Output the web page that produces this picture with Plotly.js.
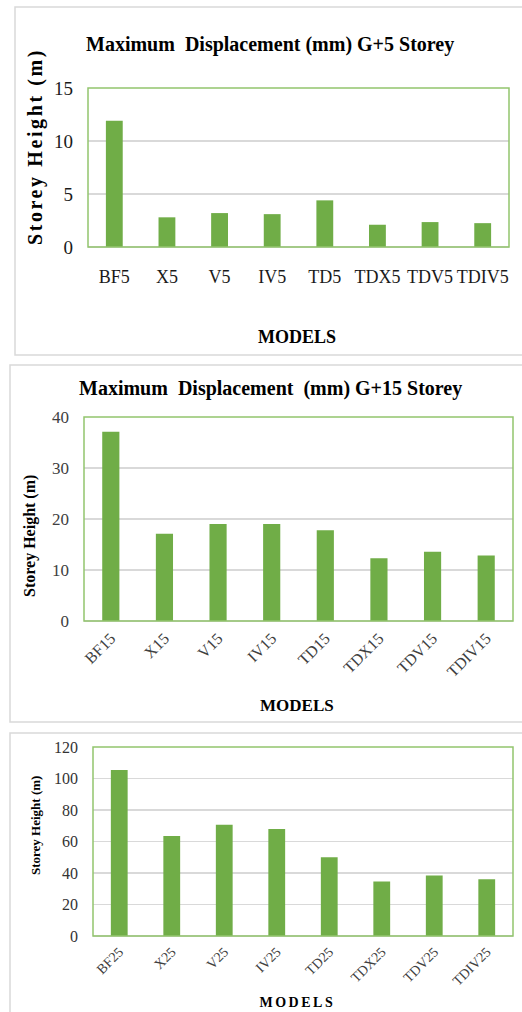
<!DOCTYPE html>
<html>
<head>
<meta charset="utf-8">
<script src="https://cdn.plot.ly/plotly-3.0.1.min.js"></script>
<style>html,body{margin:0;padding:0;background:#fff;}#chart{width:522px;height:1012px;}</style>
</head>
<body>
<div id="chart"></div>
<script>
// Data
const models5 = ["BF5", "X5", "V5", "IV5", "TD5", "TDX5", "TDV5", "TDIV5"];
const disp5 = [11.9, 2.8, 3.2, 3.1, 4.4, 2.1, 2.35, 2.25];
const models15 = ["BF15", "X15", "V15", "IV15", "TD15", "TDX15", "TDV15", "TDIV15"];
const disp15 = [37.1, 17.1, 19.0, 19.0, 17.8, 12.3, 13.6, 12.85];
const models25 = ["BF25", "X25", "V25", "IV25", "TD25", "TDX25", "TDV25", "TDIV25"];
const disp25 = [105.4, 63.5, 70.6, 67.9, 50.0, 34.6, 38.4, 36.1];
const titles = ["Maximum  Displacement (mm) G+5 Storey", "Maximum  Displacement  (mm) G+15 Storey"];
const yTitle = "Storey Height (m)";
const xTitle = "MODELS";

const W = 522, H = 1012;
const px = v => v / W;
const py = v => 1 - v / H;
const serif = "Liberation Serif";
const barColor = "#70AD47";
const frameColor = "#92C56E";
const gridColor = "#D9D9D9";

const traces = [
  {type: "bar", x: models5, y: disp5, xaxis: "x", yaxis: "y", marker: {color: barColor}, hoverinfo: "x+y"},
  {type: "bar", x: models15, y: disp15, xaxis: "x2", yaxis: "y2", marker: {color: barColor}, hoverinfo: "x+y"},
  {type: "bar", x: models25, y: disp25, xaxis: "x3", yaxis: "y3", marker: {color: barColor}, hoverinfo: "x+y"}
];

function xa(domain, anchor, size, angle, standoff, color) {
  return {domain: domain, anchor: anchor, tickangle: angle, showgrid: false, showline: false, zeroline: false,
    ticks: "", ticklabelstandoff: standoff, tickfont: {family: serif, size: size, color: color}, fixedrange: true};
}
function ya(domain, anchor, range, dtick, size, color, standoff) {
  return {domain: domain, anchor: anchor, range: range, dtick: dtick, showgrid: true, gridcolor: gridColor, gridwidth: 1.5,
    zeroline: true, zerolinecolor: gridColor, zerolinewidth: 1.5, showline: false, ticks: "", ticklabelstandoff: standoff,
    tickfont: {family: serif, size: size, color: color}, fixedrange: true};
}

function ann(text, x, y, size, angle) {
  return {text: "<b>" + text + "</b>", xref: "paper", yref: "paper", x: px(x), y: py(y), xanchor: "center", yanchor: "middle",
    textangle: angle || 0, showarrow: false, font: {family: serif, size: size, color: "#000"}};
}

const layout = {
  width: W, height: H,
  margin: {l: 0, r: 0, t: 0, b: 0},
  paper_bgcolor: "#ffffff", plot_bgcolor: "#ffffff",
  showlegend: false,
  bargap: 0.68,
  font: {family: serif},
  xaxis: xa([px(88), px(509)], "y", 18, 0, 17, "#1a1a1a"),
  yaxis: ya([py(247), py(88)], "x", [0, 15], 5, 19, "#1a1a1a", 14),
  xaxis2: xa([px(84), px(513)], "y2", 16, -45, 4, "#404040"),
  yaxis2: ya([py(621), py(417)], "x2", [0, 40], 10, 17, "#404040", 14),
  xaxis3: xa([px(93), px(513)], "y3", 14, -45, 4, "#404040"),
  yaxis3: ya([py(936), py(747)], "x3", [0, 120], 20, 16, "#333333", 14),
  shapes: [
    {type: "rect", xref: "paper", yref: "paper", x0: px(15), x1: px(530), y0: py(355), y1: py(7), line: {color: "#D9D9D9", width: 1.5}, layer: "below"},
    {type: "rect", xref: "paper", yref: "paper", x0: px(10), x1: px(530), y0: py(722), y1: py(365), line: {color: "#D9D9D9", width: 1.5}, layer: "below"},
    {type: "rect", xref: "paper", yref: "paper", x0: px(10), x1: px(530), y0: py(1030), y1: py(733), line: {color: "#D9D9D9", width: 1.5}, layer: "below"},
    {type: "rect", xref: "x domain", yref: "y domain", x0: 0, x1: 1, y0: 0, y1: 1, line: {color: frameColor, width: 1.5}},
    {type: "rect", xref: "x2 domain", yref: "y2 domain", x0: 0, x1: 1, y0: 0, y1: 1, line: {color: frameColor, width: 1.5}},
    {type: "rect", xref: "x3 domain", yref: "y3 domain", x0: 0, x1: 1, y0: 0, y1: 1, line: {color: frameColor, width: 1.5}}
  ],
  annotations: [
    ann(titles[0], 270, 45, 20),
    ann(yTitle, 36, 147, 20, -90),
    ann(xTitle, 297, 337, 18),
    ann(titles[1], 270, 388, 20),
    ann(yTitle, 30, 536, 16, -90),
    ann(xTitle, 297, 705, 17),
    ann(yTitle, 35, 826, 13, -90),
    ann(xTitle, 297, 1002, 14)
  ]
};

// letter spacing seen in the reference for a few labels
const spacing = {1: "2.6px", 7: "2.5px"};

Plotly.newPlot("chart", traces, layout, {displayModeBar: false, staticPlot: true}).then(function (gd) {
  const anns = gd.querySelectorAll(".annotation");
  Object.keys(spacing).forEach(function (i) {
    const a = anns[+i];
    if (a) a.querySelectorAll("text").forEach(function (t) { t.style.letterSpacing = spacing[i]; });
  });
});
</script>
</body>
</html>
